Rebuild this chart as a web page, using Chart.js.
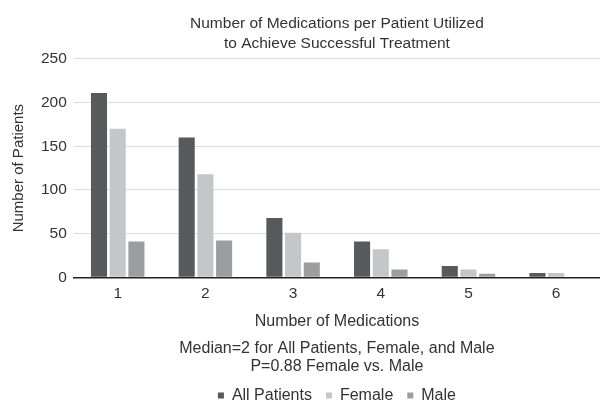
<!DOCTYPE html>
<html>
<head>
<meta charset="utf-8">
<script src="https://cdn.jsdelivr.net/npm/chart.js@4"></script>
<style>
  html, body { margin: 0; padding: 0; background: #fff; }
  #wrap { width: 600px; height: 401px; position: relative; }
</style>
</head>
<body>
<div id="wrap"><canvas id="meds"></canvas></div>
<script>
const categories = ['1', '2', '3', '4', '5', '6'];
const allPatients = [211, 160, 68, 41, 13, 5];
const female = [170, 118, 51, 32, 9, 5];
const male = [41, 42, 17, 9, 4, 0];
const yTicks = [0, 50, 100, 150, 200, 250];

const textColor = '#333333';
const fontFamily = '"Liberation Sans", Arial, sans-serif';

const ctx0 = document.getElementById('meds').getContext('2d');
const meds = new Chart(ctx0, {
    type: 'bar',
    data: {
        labels: categories,
        datasets: [{
            label: 'All Patients',
            data: allPatients,
            backgroundColor: '#58595b'
        }, {
            label: 'Female',
            data: female,
            backgroundColor: '#c5c6c8'
        }, {
            label: 'Male',
            data: male,
            backgroundColor: '#9b9d9f'
        }]
    },
    options: {
        responsive: true,
        maintainAspectRatio: false,
        animation: false,
        categoryPercentage: 0.64,
        barPercentage: 0.86,
        layout: {
            padding: { left: 9.5, right: 0, top: 0, bottom: 0 }
        },
        plugins: {
            title: {
                display: true,
                text: ['Number of Medications per Patient Utilized', 'to Achieve Successful Treatment'],
                color: textColor,
                fullSize: false,
                font: { family: fontFamily, size: 15.5, weight: 'normal', lineHeight: 1.29 },
                padding: { top: 14, bottom: 5 }
            },
            subtitle: {
                display: true,
                position: 'bottom',
                weight: 500,
                fullSize: false,
                text: ['Median=2 for All Patients, Female, and Male', 'P=0.88 Female vs. Male'],
                color: textColor,
                font: { family: fontFamily, size: 16, lineHeight: 1.145 },
                padding: { top: 8, bottom: -2.2 }
            },
            legend: {
                position: 'bottom',
                fullSize: false,
                maxHeight: 27.5,
                labels: {
                    color: textColor,
                    font: { family: fontFamily, size: 16 },
                    boxWidth: 6,
                    boxHeight: 6,
                    padding: 14
                }
            },
            tooltip: { enabled: false }
        },
        scales: {
            x: {
                grid: { display: false, drawTicks: false },
                border: { display: true, color: '#222222', width: 1.5 },
                ticks: {
                    color: textColor,
                    font: { family: fontFamily, size: 15.5 },
                    padding: 7
                },
                title: {
                    display: true,
                    text: 'Number of Medications',
                    color: textColor,
                    font: { family: fontFamily, size: 16 },
                    padding: { top: 2, bottom: 0 }
                }
            },
            y: {
                min: 0,
                max: 250,
                afterBuildTicks: axis => {
                    axis.ticks = yTicks.map(v => ({ value: v }));
                },
                grid: { color: '#dddddd', drawTicks: false },
                border: { display: false },
                ticks: {
                    color: textColor,
                    font: { family: fontFamily, size: 15.5 },
                    padding: 7
                },
                title: {
                    display: true,
                    text: 'Number of Patients',
                    color: textColor,
                    font: { family: fontFamily, size: 15 },
                    padding: { top: 0, bottom: 6.5 }
                }
            }
        }
    }
});
</script>
</body>
</html>
